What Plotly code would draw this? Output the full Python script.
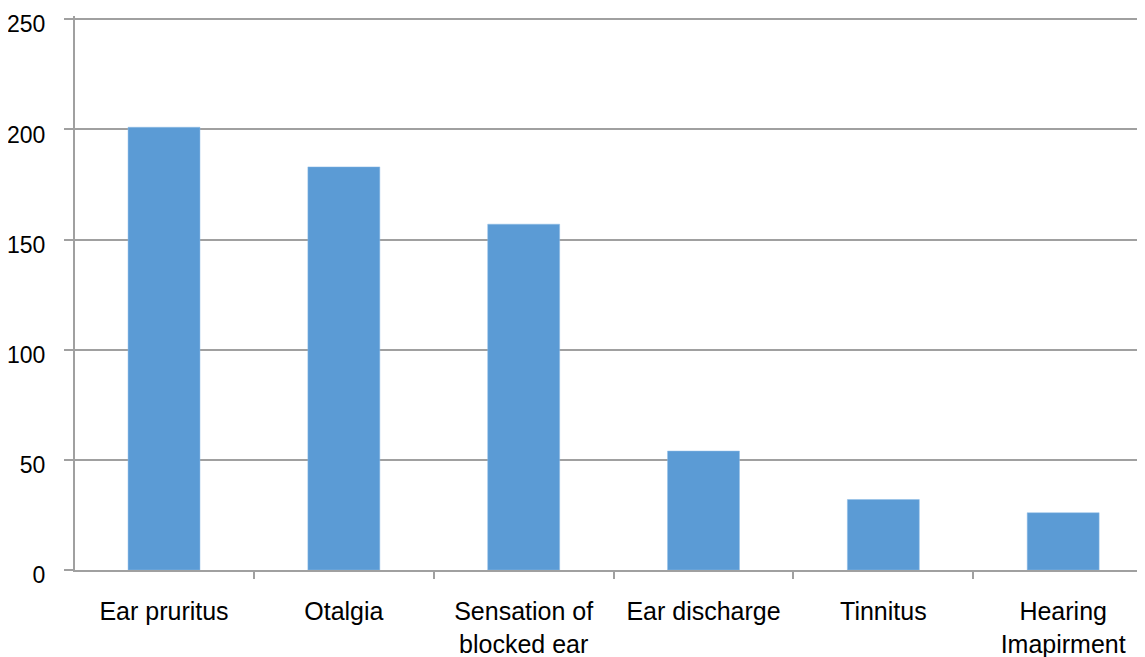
import plotly.graph_objects as go

categories = ["Ear pruritus", "Otalgia", "Sensation of<br>blocked ear", "Ear discharge", "Tinnitus", "Hearing<br>Imapirment"]
values = [201, 183, 157, 54, 32, 26]
y_ticks = [0, 50, 100, 150, 200, 250]

fig = go.Figure(go.Bar(x=categories, y=values, marker=dict(color="#5B9BD5", line=dict(color="#8FBCE6", width=0.5))))

# page body has an 8px default margin; compensate so the plot lands where the reference has it
fig.update_layout(
    width=1137, height=649,
    margin=dict(l=67, r=0, t=8, b=87),
    plot_bgcolor="white", paper_bgcolor="white",
    bargap=0.6,
    showlegend=False,
    font=dict(family="Liberation Sans, Arial, sans-serif", size=23, color="black"),
)
fig.update_xaxes(
    range=[-0.495, 5.455],
    showline=True, linecolor="#A0A0A0", linewidth=2,
    ticks="outside", tickson="boundaries", ticklen=7, tickcolor="#A0A0A0", tickwidth=1.5,
    showgrid=False,
    tickfont=dict(size=25),
    ticklabelstandoff=18,
    automargin=False,
)
fig.update_yaxes(
    range=[0, 251.5], tickvals=y_ticks,
    showline=True, linecolor="#A0A0A0", linewidth=2,
    ticks="outside", ticklen=9, tickcolor="#A0A0A0", tickwidth=1.5,
    showgrid=True, gridcolor="#A0A0A0", gridwidth=1.5,
    zeroline=False,
    ticklabelstandoff=14,
    ticklabelshift=5,
    automargin=False,
    ticklabeloverflow="allow",
)
fig.write_html("out.html")
